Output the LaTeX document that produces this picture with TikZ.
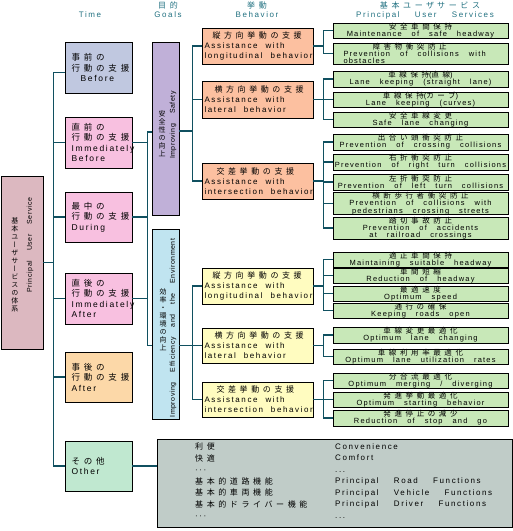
\documentclass[tikz,border=0pt]{standalone}
\usepackage{fontspec}
\setmainfont{Liberation Sans}[LetterSpace=20, WordSpace=4]
\newfontfamily\servsf{Liberation Sans}[LetterSpace=16]
\newfontfamily\goalsf{Liberation Sans}[LetterSpace=8, WordSpace=4]
\newfontfamily\jp{Noto Sans CJK JP}[LetterSpace=45]
\newfontfamily\jps{Noto Sans CJK JP}[LetterSpace=48]
\newfontfamily\jpv{Noto Sans CJK JP}[RawFeature=+vert]
\usepackage{xcolor}
\usepackage{tikz}
\definecolor{rootpink}{RGB}{220,184,192}
\definecolor{beforeblue}{RGB}{192,200,224}
\definecolor{nowpink}{RGB}{248,192,224}
\definecolor{afterpeach}{RGB}{252,216,168}
\definecolor{othermint}{RGB}{192,232,208}
\definecolor{safelav}{RGB}{192,176,216}
\definecolor{efficblue}{RGB}{192,228,240}
\definecolor{behavorange}{RGB}{252,192,160}
\definecolor{behavyellow}{RGB}{255,252,192}
\definecolor{servgreen}{RGB}{200,232,184}
\definecolor{miscgrey}{RGB}{192,204,200}
\definecolor{linkteal}{RGB}{16,80,96}
\definecolor{headteal}{RGB}{32,112,128}
\lineskiplimit=-50pt
\newcommand{\timefont}{\fontsize{8.5}{10.5}\selectfont}
\newcommand{\behavfont}{\fontsize{8}{10}\selectfont}
\newcommand{\servfont}{\servsf\fontsize{7.5}{7.2}\selectfont}
\newcommand{\headfont}{\fontsize{8}{10}\selectfont}
\newcommand{\goalfont}{\goalsf\fontsize{7}{8}\selectfont}
\newcommand{\tatefont}{\jpv\fontsize{7}{8}\selectfont}
\newcommand{\miscfont}{\fontsize{8}{11.5}\selectfont}

\begin{document}
\begin{tikzpicture}[
    x=1pt, y=-1pt,
    box/.style={draw=black, line width=0.7pt, inner sep=0pt},
    timebox/.style={box, minimum width=67pt, minimum height=51pt, text width=54pt, align=left, font=\timefont},
    goalbox/.style={box, minimum width=27pt},
    behavbox/.style={box, minimum width=111pt, minimum height=36pt, text width=106pt, align=left, font=\behavfont,
        execute at begin node={\spaceskip=8pt\relax}},
    servbox/.style={box, fill=servgreen, minimum width=175pt, minimum height=15pt, text width=172pt, align=center, font=\servfont,
        execute at begin node={\spaceskip=10pt\relax}},
    header/.style={text=headteal, font=\headfont, inner sep=0pt},
    tate/.style={font=\tatefont, align=center, inner sep=0pt},
    link/.style={draw=linkteal, line width=1.1pt}
]
\useasboundingbox (0,0) rectangle (513,531);

% Headers
\node[header] (h-time) at (90,15) {Time};
\node[header] (h-goal-jp) at (168,5) {\jp 目的};
\node[header] (h-goal) at (168,15) {Goals};
\node[header] (h-behav-jp) at (257,5) {\jp 挙動};
\node[header] (h-behav) at (257,15) {Behavior};
\node[header] (h-serv-jp) at (430,5) {\jp 基本ユーザ\hspace{3pt}サービス};
\node[header] (h-serv) at (425,15) {Principal User Services};

% Root
\node[box, fill=rootpink, minimum width=42pt, minimum height=173pt] (root) at (22,262.5) {};
\node[tate] (root-jp) at (15,265) {基\\本\\ユ\\ー\\ザ\\サ\\ー\\ビ\\ス\\の\\体\\系};
\node[font=\goalfont, rotate=90, inner sep=0pt] (root-en) at (30,245) {Principal User Service};

% Time
\node[timebox, fill=beforeblue] (before) at (98.5,67.5) {{\jp 事前の}\\{\jp 行動の支援}\\\hspace*{9pt}Before};
\node[timebox, fill=nowpink] (ibefore) at (98.5,142.5) {{\jp 直前の}\\{\jp 行動の支援}\\Immediately\\Before};
\node[timebox, fill=nowpink, minimum height=50pt] (during) at (98.5,217) {{\jp 最中の}\\{\jp 行動の支援}\\During};
\node[timebox, fill=nowpink] (iafter) at (98.5,298.5) {{\jp 直後の}\\{\jp 行動の支援}\\Immediately\\After};
\node[timebox, fill=afterpeach, minimum height=50pt] (after) at (98.5,377) {{\jp 事後の}\\{\jp 行動の支援}\\After};
\node[timebox, fill=othermint, minimum height=50pt] (other) at (98.5,466) {{\jp その他}\\Other};

% Goals
\node[goalbox, fill=safelav, minimum height=173pt] (safety) at (165.5,128.5) {};
\node[tate] (safety-jp) at (162,134) {安\\全\\性\\の\\向\\上};
\node[font=\goalfont, rotate=90, inner sep=0pt] (safety-en) at (173,125) {Improving Safety};
\node[goalbox, fill=efficblue, minimum height=190pt] (effic) at (165.5,324) {};
\node[tate] (effic-jp) at (163,320) {効\\率\\・\\環\\境\\の\\向\\上};
\node[font=\goalfont, rotate=90, inner sep=0pt] (effic-en) at (173,328) {Improving Efficiency and the Environment};

% Behavior
\node[behavbox, fill=behavorange] (b1) at (257.5,46) {\hspace*{8pt}{\jp 縦方向挙動の支援}\\Assistance with\\longitudinal behavior};
\node[behavbox, fill=behavorange, minimum height=37pt] (b2) at (257.5,99.5) {\hspace*{10pt}{\jp 横方向挙動の支援}\\Assistance with\\lateral behavior};
\node[behavbox, fill=behavorange] (b3) at (257.5,181) {\hspace*{12pt}{\jp 交差挙動の支援}\\Assistance with\\intersection behavior};
\node[behavbox, fill=behavyellow] (y1) at (257.5,286) {\hspace*{8pt}{\jp 縦方向挙動の支援}\\Assistance with\\longitudinal behavior};
\node[behavbox, fill=behavyellow, minimum height=35pt] (y2) at (257.5,345.5) {\hspace*{10pt}{\jp 横方向挙動の支援}\\Assistance with\\lateral behavior};
\node[behavbox, fill=behavyellow, minimum height=35pt] (y3) at (257.5,399.5) {\hspace*{12pt}{\jp 交差挙動の支援}\\Assistance with\\intersection behavior};

% Principal user services
\node[servbox] (s1) at (420.5,30.5) {{\jps 安全車間保持}\\Maintenance of safe headway};
\node[servbox, minimum height=21pt, align=left, text width=160pt] (s2) at (420.5,53.5) {\hspace*{32pt}{\jps 障害物衝突防止}\\\hspace*{3pt}Prevention of collisions with\\\hspace*{3pt}obstacles};
\node[servbox, minimum height=16pt] (s3) at (420.5,79) {{\jps 車線保持}({\jps 直線})\\Lane keeping (straight lane)};
\node[servbox] (s4) at (420.5,99.5) {{\jps 車線保持}({\jps カーブ})\\Lane keeping (curves)};
\node[servbox] (s5) at (420.5,119.5) {{\jps 安全車線変更}\\Safe lane changing};
\node[servbox, minimum height=16pt] (s6) at (420.5,142) {{\jps 出合い頭衝突防止}\\Prevention of crossing collisions};
\node[servbox, minimum height=16pt] (s7) at (420.5,162) {{\jps 右折衝突防止}\\Prevention of right turn collisions};
\node[servbox, minimum height=16pt] (s8) at (420.5,182) {{\jps 左折衝突防止}\\Prevention of left turn collisions};
\node[servbox, minimum height=21pt] (s9) at (420.5,203.5) {{\jps 横断歩行者衝突防止}\\Prevention of collisions with\\pedestrians crossing streets};
\node[servbox, minimum height=22pt] (s10) at (420.5,228) {{\jps 踏切事故防止}\\Prevention of accidents\\at railroad crossings};
\node[servbox] (s11) at (420.5,259.5) {{\jps 適正車間保持}\\Maintaining suitable headway};
\node[servbox] (s12) at (420.5,275.5) {{\jps 車間短縮}\\Reduction of headway};
\node[servbox] (s13) at (420.5,293.5) {{\jps 最適速度}\\Optimum speed};
\node[servbox] (s14) at (420.5,310.5) {{\jps 通行の確保}\\Keeping roads open};
\node[servbox, minimum height=16pt] (s15) at (420.5,335) {{\jps 車線変更最適化}\\Optimum lane changing};
\node[servbox] (s16) at (420.5,356.5) {{\jps 車線利用率最適化}\\Optimum lane utilization rates};
\node[servbox] (s17) at (420.5,380.5) {{\jps 分合流最適化}\\Optimum merging / diverging};
\node[servbox] (s18) at (420.5,399.5) {{\jps 発進挙動最適化}\\Optimum starting behavior};
\node[servbox, minimum height=16pt] (s19) at (420.5,418) {{\jps 発進停止の減少}\\Reduction of stop and go};

% Other
\node[box, fill=miscgrey, minimum width=355pt, minimum height=88pt] (misc) at (334.5,483) {};
\node[font=\miscfont, align=left, anchor=north west, inner sep=0pt] (misc-jp) at (195,443) {{\jp 利便}\\{\jp 快適}\\···\\{\jp 基本的道路機能}\\{\jp 基本的車両機能}\\{\jp 基本的ドライバー機能}\\···};
\node[font=\miscfont, align=left, anchor=north west, inner sep=0pt] (misc-en) at (335,443) {Convenience\\Comfort\\...\\Principal Road Functions\\Principal Vehicle Functions\\Principal Driver Functions\\...};

% Root to time
\draw[link] (root.east) -- ++(10,0) |- ([yshift=-5pt]before.west);
\draw[link] (root.east) -- ++(10,0) |- (ibefore.west);
\draw[link] (root.east) -- ++(10,0) |- (during.west);
\draw[link] (root.east) -- ++(10,0) |- (iafter.west);
\draw[link] (root.east) -- ++(10,0) |- (after.west);
\draw[link] (root.east) -- ++(10,0) |- (other.west);

% Time to goals
\draw[link] (ibefore.east) -- ++(15,0) |- ([yshift=-3.5pt]safety.west);
\draw[link] (ibefore.east) -- ++(15,0) |- (effic.west |- y2.west);
\draw[link] (during.east) -- ++(15,0) |- ([yshift=-3.5pt]safety.west);
\draw[link] (during.east) -- ++(15,0) |- (effic.west |- y2.west);
\draw[link] (iafter.east) -- ++(15,0) |- ([yshift=-3.5pt]safety.west);
\draw[link] (iafter.east) -- ++(15,0) |- (effic.west |- y2.west);
\draw[link] (other.east) -- (misc.west |- other.east);

% Goals to behavior
\draw[link] ([yshift=-2.5pt]safety.east) -- ++(13,0) |- (b1.west);
\draw[link] ([yshift=-2.5pt]safety.east) -- ++(13,0) |- (b2.west);
\draw[link] ([yshift=-2.5pt]safety.east) -- ++(13,0) |- (b3.west);
\draw[link] (effic.east |- y2.west) -- ++(13,0) |- (y1.west);
\draw[link] (effic.east |- y2.west) -- ++(13,0) |- (y2.west);
\draw[link] (effic.east |- y2.west) -- ++(13,0) |- (y3.west);

% Behavior to services
\draw[link] (b1.east) -- ++(10,0) |- (s1.west);
\draw[link] (b1.east) -- ++(10,0) |- (s2.west);
\draw[link] (b2.east) -- ++(10,0) |- (s3.west);
\draw[link] (b2.east) -- ++(10,0) |- (s4.west);
\draw[link] (b2.east) -- ++(10,0) |- (s5.west);
\draw[link] (b3.east) -- ++(10,0) |- (s6.west);
\draw[link] (b3.east) -- ++(10,0) |- (s7.west);
\draw[link] (b3.east) -- ++(10,0) |- (s8.west);
\draw[link] (b3.east) -- ++(10,0) |- (s9.west);
\draw[link] (b3.east) -- ++(10,0) |- (s10.west);
\draw[link] (y1.east) -- ++(10,0) |- (s11.west);
\draw[link] (y1.east) -- ++(10,0) |- (s12.west);
\draw[link] (y1.east) -- ++(10,0) |- (s13.west);
\draw[link] (y1.east) -- ++(10,0) |- (s14.west);
\draw[link] (y2.east) -- ++(10,0) |- (s15.west);
\draw[link] (y2.east) -- ++(10,0) |- (s16.west);
\draw[link] (y3.east) -- ++(10,0) |- (s17.west);
\draw[link] (y3.east) -- ++(10,0) |- (s18.west);
\draw[link] (y3.east) -- ++(10,0) |- (s19.west);

\end{tikzpicture}
\end{document}
